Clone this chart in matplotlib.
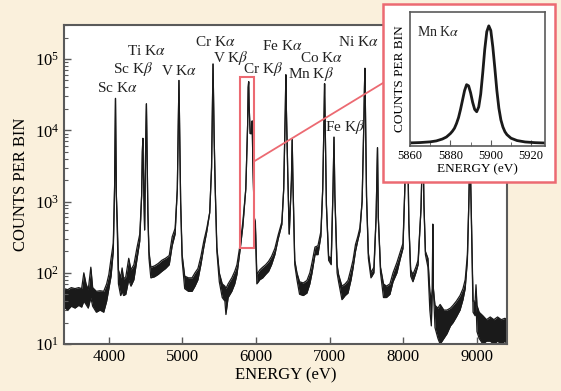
import numpy as np
import matplotlib
matplotlib.use("Agg")
import matplotlib.pyplot as plt
from matplotlib.patches import Rectangle, ConnectionPatch
from matplotlib.ticker import LogLocator, MultipleLocator

plt.rcParams['font.family'] = ['Liberation Serif', 'DejaVu Serif']
plt.rcParams['mathtext.fontset'] = 'stix'

# continuum (noisy band): energy, lower and upper edge of the band
bg_energy = [3390, 3440, 3490, 3540, 3590, 3630, 3660, 3690, 3720, 3755, 3780, 3830, 3880, 3930, 3970,
             4000, 4030, 4060, 4115, 4130, 4160, 4180, 4200, 4230, 4270, 4300, 4340, 4380, 4420,
             4545, 4570, 4620, 4670, 4720, 4770, 4820, 4860, 4900,
             4995, 5030, 5080, 5130, 5170, 5210, 5250, 5290, 5330,
             5467, 5500, 5540, 5576, 5590, 5620, 5670, 5710, 5740, 5780, 5820,
             5990, 6010, 6050, 6090, 6130, 6170, 6210, 6255, 6300, 6350,
             6525, 6555, 6590, 6640, 6690, 6730, 6760, 6800, 6840, 6880,
             6985, 7020, 7100, 7120, 7166, 7210, 7248, 7290, 7316, 7350, 7380, 7410,
             7525, 7560, 7600, 7690, 7730, 7770, 7818, 7860, 7913, 7960, 7995,
             8100, 8130, 8170, 8200, 8300, 8334, 8360, 8380,
             8430, 8470, 8500, 8550, 8593, 8640, 8675, 8720, 8770, 8810, 8840, 8870,
             8947, 8975, 8987, 9000, 9030, 9080, 9130, 9180, 9230, 9280, 9330, 9380, 9410]
bg_lo = [33, 30, 34, 32, 35, 33, 40, 36, 32, 45, 34, 28, 30, 28, 40,
         60, 90, 200, 350, 70, 48, 55, 48, 50, 80, 65, 80, 150, 280,
         160, 85, 88, 95, 105, 115, 130, 240, 350,
         150, 60, 55, 55, 65, 80, 130, 230, 380,
         200, 75, 45, 40, 26, 45, 55, 70, 95, 200, 450,
         400, 70, 80, 85, 95, 105, 130, 180, 300, 480,
         130, 80, 50, 48, 52, 70, 100, 180, 180, 330,
         150, 130, 100, 75, 42, 48, 52, 80, 115, 200, 280, 380,
         160, 85, 100, 100, 45, 45, 50, 75, 100, 160, 220,
         90, 75, 100, 130, 180, 120, 30, 18,
         17, 12, 10, 12, 14, 18, 20, 24, 30, 42, 60, 150,
         28, 25, 40, 15, 12, 10, 11, 11, 10, 11, 10, 11, 10]
bg_hi = [60, 58, 62, 60, 62, 60, 100, 70, 58, 120, 62, 55, 56, 55, 70,
         95, 160, 260, 500, 110, 85, 117, 82, 88, 160, 110, 130, 220, 350,
         200, 120, 125, 135, 150, 160, 175, 320, 420,
         180, 90, 85, 85, 100, 115, 170, 280, 420,
         230, 100, 70, 65, 60, 70, 85, 105, 130, 240, 520,
         520, 95, 110, 120, 130, 145, 170, 220, 340, 520,
         150, 100, 75, 72, 78, 100, 140, 230, 240, 380,
         170, 160, 130, 95, 65, 70, 78, 115, 150, 250, 320, 430,
         190, 100, 120, 120, 70, 65, 70, 100, 140, 200, 260,
         110, 95, 120, 150, 200, 160, 55, 40,
         35, 32, 36, 30, 30, 32, 35, 40, 48, 60, 80, 180,
         40, 40, 68, 35, 28, 25, 22, 24, 22, 24, 22, 23, 22]

# emission lines (narrow peaks)
line_energy = [4078, 4086, 4090, 4094, 4102,
               4445, 4455, 4462, 4470, 4486, 4500, 4510, 4517, 4530,
               4930, 4945, 4952, 4959, 4975,
               5370, 5395, 5408, 5415, 5422, 5430, 5445,
               5860, 5885, 5893, 5899, 5905, 5920, 5940, 5947, 5955, 5975,
               6375, 6397, 6404, 6411, 6430, 6450, 6480, 6490, 6500,
               6905, 6923, 6930, 6937, 6955, 7045, 7058, 7070,
               7440, 7465, 7472, 7478, 7485, 7500, 7630, 7649, 7660,
               8020, 8040, 8048, 8056, 8075,
               8240, 8265, 8280,
               8394, 8400, 8408,
               8890, 8905, 8920]
line_counts = [1600, 9000, 28000, 9000, 1200,
               1200, 5000, 7700, 2500, 400, 6000, 23500, 7000, 700,
               1500, 15000, 50000, 15000, 1000,
               700, 3000, 25000, 85000, 25000, 8000, 1500,
               1500, 12000, 40000, 48000, 22000, 9000, 9000, 13500, 4000, 600,
               1500, 20000, 60000, 20000, 2500, 350, 2000, 7400, 2000,
               1500, 15000, 45000, 15000, 900, 1500, 8000, 1200,
               1000, 15000, 40000, 74000, 20000, 1200, 600, 5700, 600,
               1500, 25000, 30000, 10000, 500,
               800, 9000, 900,
               60, 480, 60,
               1000, 6000, 1000]

peak_names = ['Sc K$\\alpha$', 'Sc K$\\beta$', 'Ti K$\\alpha$', 'V K$\\alpha$', 'Cr K$\\alpha$',
              'V K$\\beta$', 'Cr K$\\beta$', 'Fe K$\\alpha$', 'Mn K$\\beta$', 'Co K$\\alpha$',
              'Ni K$\\alpha$', 'Fe K$\\beta$']
name_energy = [4109, 4326, 4503, 4951, 5440, 5658, 6092, 6351, 6745, 6894, 7383, 7207]
name_counts = [39000, 72000, 129000, 68000, 174000, 102000, 72000, 150000, 62000, 102000, 174000, 11000]

# Mn K-alpha doublet (inset)
mn_energy = [5860, 5865, 5870, 5873, 5876, 5878, 5880, 5881, 5882, 5883, 5884, 5885, 5886, 5887,
             5888, 5889, 5890, 5891, 5892, 5893, 5894, 5895, 5896, 5897, 5898, 5899, 5900, 5901,
             5902, 5903, 5904, 5905, 5906, 5907, 5908, 5910, 5913, 5917, 5922, 5927]
mn_counts = [0.005, 0.008, 0.014, 0.022, 0.038, 0.055, 0.085, 0.105, 0.13, 0.17, 0.22, 0.29, 0.37, 0.45,
             0.50, 0.49, 0.43, 0.35, 0.29, 0.27, 0.31, 0.42, 0.60, 0.80, 0.95, 1.0, 0.96, 0.82,
             0.64, 0.45, 0.30, 0.20, 0.14, 0.10, 0.075, 0.045, 0.025, 0.013, 0.007, 0.004]

energy = np.concatenate([bg_energy, line_energy])
lo = np.concatenate([bg_lo, line_counts])
hi = np.concatenate([bg_hi, line_counts])
order = np.argsort(energy)
energy, lo, hi = energy[order], lo[order], hi[order]

cream = '#faf0dc'
red = '#ec6a72'
spine = '#5a5a5a'

fig = plt.figure(figsize=(5.61, 3.91), dpi=100, facecolor=cream)
ax = fig.add_axes([0.114, 0.120, 0.790, 0.816])
ax.set_facecolor('white')

ax.fill_between(energy, lo, hi, color='#1a1a1a', lw=0)
ax.plot(energy, lo, color='#1a1a1a', lw=0.9)
ax.plot(energy, hi, color='#1a1a1a', lw=0.9)

ax.set_yscale('log')
ax.set_xlim(3390, 9410)
ax.set_ylim(10, 3e5)
ax.set_xticks([4000, 5000, 6000, 7000, 8000, 9000])
ax.yaxis.set_major_locator(LogLocator(base=10, numticks=10))
ax.yaxis.set_minor_locator(LogLocator(base=10, subs=np.arange(2, 10), numticks=10))
ax.tick_params(which='both', direction='in', top=False, right=False, color=spine, labelsize=12)
ax.tick_params(which='major', length=5, width=1)
ax.tick_params(which='minor', length=3, width=0.8)
for s in ax.spines.values():
    s.set_color(spine)
    s.set_linewidth(1.5)
ax.set_xlabel('ENERGY (eV)', fontsize=12, labelpad=2)
ax.set_ylabel('COUNTS PER BIN', fontsize=12, labelpad=4)

for name, e, c in zip(peak_names, name_energy, name_counts):
    ax.text(e, c, name, fontsize=11, ha='center', va='center', color='#222222')

# zoom box around Mn K-alpha
ax.add_patch(Rectangle((5780, 224), 190, 56000 - 224, fill=False, edgecolor=red, lw=1.5, zorder=4))

# inset frame
frame = Rectangle((0.683, 0.535), 0.307, 0.455, transform=fig.transFigure,
                  facecolor='white', edgecolor=red, lw=1.8, zorder=4)
fig.add_artist(frame)

con = ConnectionPatch(xyA=(5970, 3650), coordsA=ax.transData,
                      xyB=(0.683, 0.788), coordsB=fig.transFigure,
                      color=red, lw=1.3, zorder=3)
fig.add_artist(con)

ins = fig.add_axes([0.731, 0.627, 0.241, 0.343])
ins.set_zorder(5)
ins.plot(mn_energy, mn_counts, color='#1a1a1a', lw=2.0, solid_joinstyle='round')
ins.set_xlim(5860, 5927)
ins.set_ylim(-0.02, 1.12)
ins.set_xticks([5860, 5880, 5900, 5920])
ins.xaxis.set_minor_locator(MultipleLocator(10))
ins.set_yticks([])
ins.tick_params(which='both', direction='in', top=False, right=False, color=spine, labelsize=9, pad=3)
ins.tick_params(which='major', length=4)
ins.tick_params(which='minor', length=3)
for s in ins.spines.values():
    s.set_color(spine)
    s.set_linewidth(1.2)
ins.set_xlabel('ENERGY (eV)', fontsize=9.5, labelpad=1)
ins.set_ylabel('COUNTS PER BIN', fontsize=9.5, labelpad=3)
ins.text(0.05, 0.82, 'Mn K$\\alpha$', transform=ins.transAxes, fontsize=10, color='#222222')

fig.savefig('out.png', dpi=100, facecolor=cream)
